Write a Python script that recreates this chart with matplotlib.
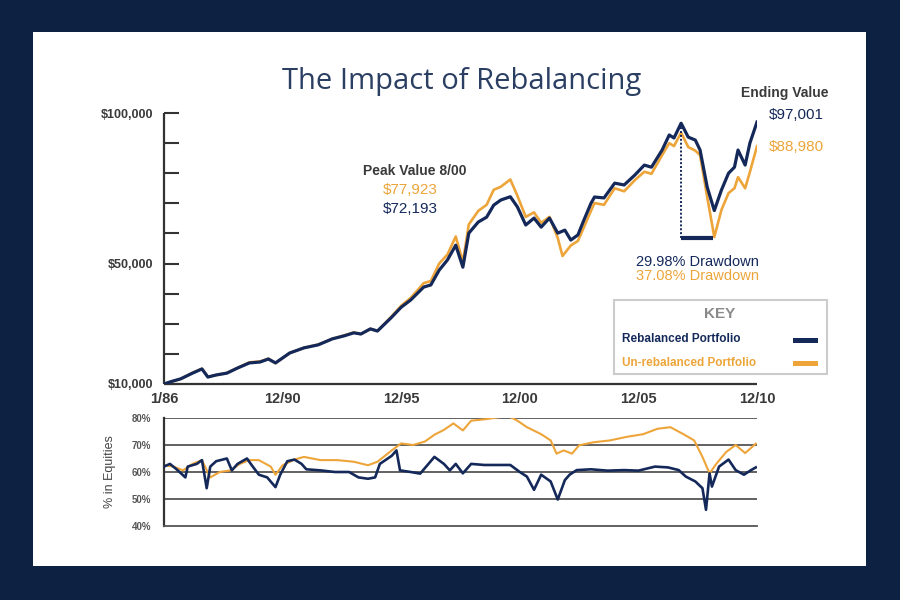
import numpy as np
import matplotlib.pyplot as plt
from matplotlib.patches import Rectangle

# ===============================================================
# colours and fonts
# ===============================================================
navy = '#14295a'
orange = '#eda53a'
frame = '#0d2143'
grey = '#3a3a3a'
plt.rcParams['font.family'] = ['Liberation Sans', 'DejaVu Sans']

# ===============================================================
# data (decimal years)
# ===============================================================
# growth of $10,000, rebalanced portfolio
reb_year = [1986.0, 1986.3, 1986.7, 1987.2, 1987.6, 1987.85, 1988.2, 1988.65, 1989.1, 1989.6,
            1990.05, 1990.4, 1990.7, 1991.3, 1991.9, 1992.5, 1993.1, 1993.6, 1994.0, 1994.3,
            1994.7, 1995.0, 1995.6, 1996.0, 1996.4, 1996.95, 1997.25, 1997.6, 1997.95, 1998.3,
            1998.6, 1998.85, 1999.25, 1999.6, 1999.9, 2000.2, 2000.6, 2000.9, 2001.25, 2001.6,
            2001.9, 2002.25, 2002.6, 2002.9, 2003.15, 2003.45, 2003.7, 2004.0, 2004.15, 2004.55,
            2005.0, 2005.4, 2005.85, 2006.25, 2006.55, 2007.0, 2007.3, 2007.5, 2007.8, 2008.1,
            2008.4, 2008.6, 2008.9, 2009.2, 2009.5, 2009.8, 2010.05, 2010.2, 2010.5, 2010.7, 2011.0]
reb_value = [10000, 10800, 11700, 13600, 15000, 12300, 13000, 13600, 15300, 17000,
             17300, 18300, 17000, 20300, 22000, 23000, 25000, 26000, 27000, 26600,
             28300, 27600, 32200, 35500, 37900, 42200, 42900, 47800, 51200, 56100,
             48800, 60100, 63800, 65400, 69400, 71100, 72193, 68800, 62800, 65100,
             62100, 65100, 60100, 61100, 57800, 59500, 64400, 70000, 72100, 71800,
             76700, 76100, 79400, 82700, 82000, 87700, 92700, 91700, 96600, 92000,
             91000, 87700, 75400, 67600, 74400, 80000, 82000, 87700, 82700, 90000, 97001]

# growth of $10,000, un-rebalanced portfolio
un_year = [1986.0, 1986.7, 1987.2, 1987.6, 1987.85, 1988.65, 1989.6, 1990.05, 1990.4, 1990.7,
           1991.3, 1991.9, 1992.5, 1993.1, 1994.0, 1994.3, 1994.7, 1995.0, 1995.6, 1996.0,
           1996.4, 1996.95, 1997.25, 1997.6, 1997.95, 1998.3, 1998.6, 1998.85, 1999.25, 1999.6,
           1999.9, 2000.2, 2000.6, 2000.9, 2001.25, 2001.6, 2001.9, 2002.25, 2002.6, 2002.8,
           2003.15, 2003.45, 2003.7, 2004.0, 2004.15, 2004.55, 2005.0, 2005.4, 2005.85, 2006.25,
           2006.55, 2007.0, 2007.3, 2007.5, 2007.8, 2008.1, 2008.4, 2008.6, 2008.9, 2009.2,
           2009.5, 2009.8, 2010.05, 2010.2, 2010.5, 2010.7, 2011.0]
un_value = [10000, 11700, 13700, 15100, 12400, 13700, 17200, 17500, 18400, 16900,
            20300, 22000, 23100, 25000, 27100, 26600, 28300, 27600, 32500, 36000,
            38600, 43500, 44200, 50000, 53000, 59000, 50500, 63000, 67500, 69500,
            74500, 75500, 77923, 72500, 65500, 67000, 63500, 65500, 58500, 52500,
            56000, 57500, 62000, 67500, 70100, 69500, 75000, 74000, 77700, 80500,
            79800, 86000, 90000, 89000, 93500, 88700, 87500, 86000, 72100, 58800,
            67800, 73400, 75000, 78700, 75000, 80400, 88980]

# % in equities
reb_eq_year = [1986.0, 1986.25, 1986.53, 1986.9, 1987.0, 1987.38, 1987.6, 1987.8, 1987.95, 1988.2,
               1988.65, 1988.86, 1989.1, 1989.5, 1989.7, 1990.0, 1990.35, 1990.7, 1990.9, 1991.2,
               1991.5, 1991.8, 1992.0, 1992.6, 1993.2, 1993.8, 1994.2, 1994.6, 1994.9, 1995.1,
               1995.6, 1995.8, 1995.95, 1996.4, 1996.8, 1997.1, 1997.4, 1997.8, 1998.05, 1998.3,
               1998.6, 1998.95, 1999.5, 2000.1, 2000.6, 2001.0, 2001.3, 2001.6, 2001.9, 2002.3,
               2002.6, 2002.9, 2003.1, 2003.4, 2004.0, 2004.7, 2005.4, 2006.0, 2006.7, 2007.25,
               2007.7, 2008.0, 2008.4, 2008.7, 2008.85, 2009.0, 2009.1, 2009.4, 2009.8, 2010.1,
               2010.45, 2010.75, 2010.95]
reb_eq = [62, 63, 61, 58, 62, 63, 64.4, 54, 62, 64,
          65, 60.6, 63, 65, 62.5, 59, 58, 54.4, 59, 64,
          64.6, 63, 61, 60.6, 60, 60, 58, 57.5, 58, 63,
          66, 68, 60.6, 60, 59.4, 62.5, 65.6, 63, 60.6, 63,
          59.5, 63, 62.6, 62.6, 62.6, 60, 58.3, 53.4, 59, 56.5,
          49.8, 57, 59, 60.7, 61, 60.5, 60.7, 60.5, 62, 61.7,
          60.7, 58.3, 56.5, 54, 46, 59.5, 54.6, 62, 64.6, 60.7,
          59, 60.7, 61.7]

un_eq_year = [1986.0, 1986.4, 1986.8, 1987.2, 1987.6, 1987.95, 1988.35, 1988.8, 1989.2, 1989.6,
              1990.0, 1990.5, 1990.7, 1991.0, 1991.5, 1991.9, 1992.6, 1993.3, 1994.0, 1994.6,
              1995.0, 1995.6, 1996.0, 1996.5, 1997.0, 1997.4, 1997.8, 1998.2, 1998.6, 1998.95,
              1999.6, 2000.5, 2000.9, 2001.3, 2001.9, 2002.3, 2002.55, 2002.85, 2003.2, 2003.5,
              2004.1, 2004.8, 2005.5, 2006.2, 2006.8, 2007.35, 2007.9, 2008.35, 2008.7, 2009.0,
              2009.3, 2009.7, 2010.1, 2010.5, 2010.95]
un_eq = [62.5, 62, 60.6, 63, 64.4, 58, 60, 60.6, 63, 64.4,
         64.4, 62, 59, 62.5, 64.6, 65.6, 64.4, 64.4, 63.8, 62.5,
         63.8, 68, 70.6, 70, 71.3, 73.8, 75.6, 78, 75.4, 79,
         79.6, 80.8, 79, 76.6, 74, 71.7, 66.8, 68, 66.8, 69.9,
         71, 71.7, 73, 74, 76, 76.6, 74, 71.7, 65.6, 59.5,
         63.2, 67.4, 70, 67, 70.5]

# axis ticks and labels
x_ticks = [1986, 1991, 1996, 2001, 2006, 2011]
x_labels = ['1/86', '12/90', '12/95', '12/00', '12/05', '12/10']
y_ticks = np.arange(10000, 100001, 10000)
y_labels = {10000: '$10,000', 50000: '$50,000', 100000: '$100,000'}
eq_ticks = [40, 50, 60, 70, 80]

# drawdown marker
peak_year, trough_year, trough_level = 2007.8, 2009.15, 58500

# ===============================================================
# figure
# ===============================================================
def fx(px):
    return px / 900

def fy(py):
    return 1 - py / 600

fig = plt.figure(figsize=(9, 6), dpi=100)
fig.patch.set_facecolor(frame)
fig.add_artist(Rectangle((fx(33), fy(566)), fx(833), 534 / 600, transform=fig.transFigure,
                         facecolor='white', edgecolor='none', zorder=-1))

# ---- top panel: growth
ax1 = fig.add_axes([fx(164), fy(384), fx(593), 271 / 600])
ax1.set_facecolor('none')
ax1.plot(un_year, un_value, color=orange, lw=1.9, zorder=2)
ax1.plot(reb_year, reb_value, color=navy, lw=2.3, zorder=3)
ax1.set_xlim(1986, 2011)
ax1.set_ylim(10000, 100000)

for s in ['top', 'right']:
    ax1.spines[s].set_visible(False)
for s in ['left', 'bottom']:
    ax1.spines[s].set_linewidth(1.6)
    ax1.spines[s].set_color('#333333')
    ax1.spines[s].set_capstyle('butt')

ax1.set_yticks(y_ticks)
ax1.set_yticklabels([y_labels.get(int(v), '') for v in y_ticks])
ax1.tick_params(axis='y', direction='in', length=10.5, width=1.5, color='#333333',
                labelsize=9, labelcolor=grey, pad=8)
for t in ax1.get_yticklabels():
    t.set_fontweight('bold')
ax1.set_xticks(x_ticks)
ax1.set_xticklabels(x_labels, fontsize=10.5, fontweight='bold', color=grey)
ax1.tick_params(axis='x', length=0, pad=6)

# drawdown marker
ax1.vlines(peak_year, trough_level, max(reb_value) - 400, colors=navy, lw=1.4, linestyles=(0, (1, 1)), zorder=4)
ax1.hlines(trough_level, peak_year, trough_year, colors=navy, lw=3.0, zorder=4)

# ---- bottom panel: % in equities
ax2 = fig.add_axes([fx(164), fy(526), fx(593), 108 / 600])
ax2.set_facecolor('none')
for v in eq_ticks[1:]:
    ax2.axhline(v, color='#555555', lw=1.3, zorder=1)
ax2.plot(un_eq_year, un_eq, color=orange, lw=1.5, zorder=2)
ax2.plot(reb_eq_year, reb_eq, color=navy, lw=1.9, zorder=3)
ax2.set_xlim(1986, 2011)
ax2.set_ylim(40, 80)
for s in ['top', 'right']:
    ax2.spines[s].set_visible(False)
ax2.spines['left'].set_linewidth(1.6)
ax2.spines['left'].set_color('#333333')
ax2.spines['bottom'].set_linewidth(1.3)
ax2.spines['bottom'].set_color('#555555')
ax2.set_xticks([])
ax2.set_yticks(eq_ticks)
ax2.set_yticklabels([f'{v}%' for v in eq_ticks], fontsize=7, fontweight='bold', color='#555555')
ax2.tick_params(axis='y', length=0, pad=9)
fig.text(fx(110), fy(472), '% in Equities', rotation=90, ha='center', va='center',
         fontsize=9, color='#444444')

# ---- title and annotations
fig.text(fx(462), fy(81), 'The Impact of Rebalancing', ha='center', va='center',
         fontsize=21, color='#2b3f63', family=['Open Sans', 'DejaVu Sans'])

fig.text(fx(415), fy(171), 'Peak Value 8/00', ha='center', va='center', fontsize=10,
         fontweight='bold', color=grey)
fig.text(fx(410), fy(190), '$77,923', ha='center', va='center', fontsize=11, color=orange)
fig.text(fx(410), fy(209), '$72,193', ha='center', va='center', fontsize=11, color=navy)

fig.text(fx(785), fy(93), 'Ending Value', ha='center', va='center', fontsize=10,
         fontweight='bold', color=grey)
fig.text(fx(796), fy(115), '$97,001', ha='center', va='center', fontsize=11, color=navy)
fig.text(fx(796), fy(147), '$88,980', ha='center', va='center', fontsize=11, color=orange)

fig.text(fx(697), fy(262), '29.98% Drawdown', ha='center', va='center', fontsize=10.5, color=navy)
fig.text(fx(697), fy(276), '37.08% Drawdown', ha='center', va='center', fontsize=10.5, color=orange)

# ---- key box
fig.add_artist(Rectangle((fx(614), fy(374)), fx(213), 74 / 600, transform=fig.transFigure,
                         facecolor='white', edgecolor='#cccccc', lw=1.5, zorder=5))
fig.text(fx(720), fy(314), 'KEY', ha='center', va='center', fontsize=11, fontweight='bold',
         color='#8a8a8a', zorder=6)
fig.text(fx(622), fy(339), 'Rebalanced Portfolio', ha='left', va='center', fontsize=8.5,
         fontweight='bold', color=navy, zorder=6)
fig.text(fx(622), fy(363), 'Un-rebalanced Portfolio', ha='left', va='center', fontsize=8.5,
         fontweight='bold', color=orange, zorder=6)
fig.add_artist(Rectangle((fx(793), fy(343)), fx(25), 5 / 600, transform=fig.transFigure,
                         facecolor=navy, edgecolor='none', zorder=6))
fig.add_artist(Rectangle((fx(793), fy(366)), fx(25), 5 / 600, transform=fig.transFigure,
                         facecolor=orange, edgecolor='none', zorder=6))

fig.savefig('out.png', dpi=100, facecolor=fig.get_facecolor())
